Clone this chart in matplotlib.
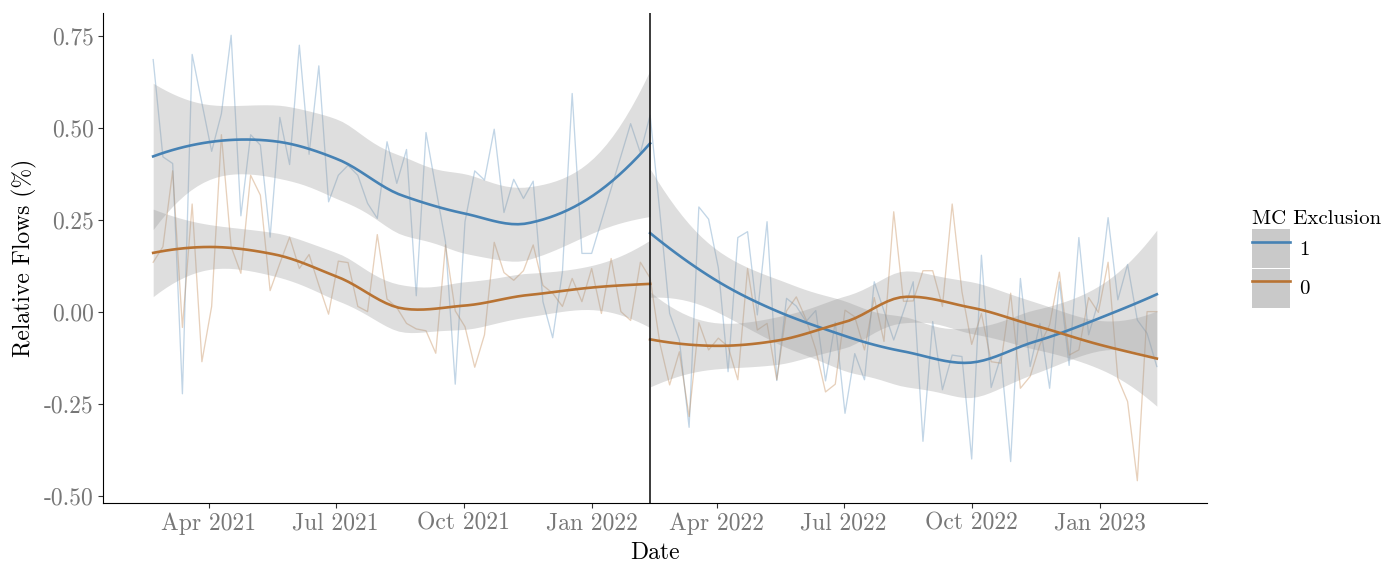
import numpy as np
import pandas as pd
import matplotlib
matplotlib.use("Agg")
import matplotlib.pyplot as plt
import matplotlib.dates as mdates
from matplotlib.patches import Patch
from matplotlib.lines import Line2D
from matplotlib.legend_handler import HandlerTuple

# -----------------------------
# Data (weekly relative flows)
# -----------------------------
start_date = "2021-02-20"
cutoff_date = "2022-02-12"

flows_mc1 = [
    0.685, 0.421, 0.403, -0.222, 0.699, 0.567, 0.436, 0.538, 0.751, 0.261,
    0.481, 0.453, 0.203, 0.528, 0.400, 0.724, 0.428, 0.668, 0.299, 0.371,
    0.398, 0.371, 0.295, 0.254, 0.462, 0.349, 0.441, 0.044, 0.487, 0.337,
    0.190, -0.196, 0.245, 0.383, 0.358, 0.496, 0.270, 0.360, 0.308, 0.355,
    0.028, -0.070, 0.109, 0.593, 0.159, 0.159, 0.247, 0.335, 0.423, 0.511,
    0.432, 0.534, 0.270, -0.004, -0.076, -0.313, 0.285, 0.252, 0.120, -0.162,
    0.202, 0.218, -0.008, 0.245, -0.186, 0.037, 0.016, -0.026, 0.004, -0.187,
    -0.028, -0.275, -0.113, -0.184, 0.082, 0.003, -0.076, 0.001, 0.082, -0.351,
    -0.026, -0.211, -0.117, -0.121, -0.399, 0.154, -0.205, -0.121, -0.406, 0.091,
    -0.148, -0.031, -0.207, 0.082, -0.145, 0.202, -0.062, 0.028, 0.256, 0.033,
    0.129, -0.022, -0.058, -0.148,
]

flows_mc0 = [
    0.135, 0.177, 0.383, -0.042, 0.293, -0.135, 0.015, 0.481, 0.177, 0.105,
    0.371, 0.317, 0.058, 0.132, 0.203, 0.118, 0.156, 0.073, -0.006, 0.138,
    0.134, 0.015, 0.001, 0.210, 0.035, 0.012, -0.031, -0.046, -0.051, -0.112,
    0.182, 0.003, -0.040, -0.150, -0.062, 0.189, 0.107, 0.086, 0.112, 0.182,
    0.072, 0.051, 0.015, 0.091, 0.028, 0.118, -0.004, 0.145, 0.001, -0.023,
    0.135, 0.092, -0.085, -0.198, -0.108, -0.284, -0.029, -0.103, -0.071, -0.094,
    -0.184, 0.118, -0.049, -0.031, -0.184, 0.003, 0.041, -0.020, -0.102, -0.217,
    -0.196, 0.005, -0.013, -0.103, 0.039, -0.080, 0.272, 0.029, 0.030, 0.112,
    0.112, 0.015, 0.293, 0.055, -0.088, -0.004, -0.135, -0.139, 0.051, -0.207,
    -0.175, -0.089, -0.035, 0.108, -0.117, -0.103, 0.039, -0.001, 0.135, -0.180,
    -0.243, -0.458, 0.001, 0.001,
]

groups = ["1", "0"]
colors = {"1": "#4682B4", "0": "#B87333"}

dates = pd.date_range(start_date, periods=len(flows_mc1), freq="7D")
cutoff = pd.Timestamp(cutoff_date)
series = {"1": np.array(flows_mc1), "0": np.array(flows_mc0)}


# -----------------------------
# LOESS smoother (degree 2, tricube, span 0.75), kd-tree vertices
# with cubic Hermite interpolation, plus 95% band
# -----------------------------
def t_quantile(df, z=1.959964):
    return z + (z**3 + z) / (4 * df) + (5 * z**5 + 16 * z**3 + 3 * z) / (96 * df**2)


def local_ops(x, x0s, span=0.75):
    """Rows giving local fitted value and slope at each x0 as linear maps of y."""
    n = len(x)
    q = int(np.floor(n * span))
    vals, slopes = [], []
    for x0 in x0s:
        d = np.abs(x - x0)
        h = np.sort(d)[q - 1]
        u = np.clip(d / h, 0, 1)
        w = (1 - u**3) ** 3
        X = np.column_stack([np.ones(n), x - x0, (x - x0) ** 2])
        WX = w[:, None] * X
        op = np.linalg.solve(X.T @ WX, WX.T)
        vals.append(op[0])
        slopes.append(op[1])
    return np.array(vals), np.array(slopes)


def kd_vertices(x, span=0.75, cell=0.2):
    fc = int(np.floor(len(x) * span * cell))
    mu = 0.005 * (x.max() - x.min())
    verts = {x.min() - mu, x.max() + mu}

    def split(pts):
        if len(pts) <= fc:
            return
        cut = np.median(pts)
        verts.add(cut)
        split(pts[pts <= cut])
        split(pts[pts > cut])

    split(np.sort(x))
    return np.array(sorted(verts))


def interp_rows(x, x_eval, span=0.75):
    vx = kd_vertices(x, span)
    V, S = local_ops(x, vx, span)
    rows = []
    for xe in x_eval:
        j = min(max(np.searchsorted(vx, xe) - 1, 0), len(vx) - 2)
        a, b = vx[j], vx[j + 1]
        h = b - a
        t = (xe - a) / h
        h00 = 2 * t**3 - 3 * t**2 + 1
        h10 = t**3 - 2 * t**2 + t
        h01 = -2 * t**3 + 3 * t**2
        h11 = t**3 - t**2
        rows.append(h00 * V[j] + h10 * h * S[j] + h01 * V[j + 1] + h11 * h * S[j + 1])
    return np.array(rows)


def smooth(xd, y, n_out=80):
    x = (xd - xd.mean()) / (xd.max() - xd.min())
    n = len(x)
    L = interp_rows(x, x)
    resid = y - L @ y
    M = (np.eye(n) - L).T @ (np.eye(n) - L)
    d1 = np.trace(M)
    d2 = np.trace(M @ M)
    s = np.sqrt(resid @ resid / d1)
    tq = t_quantile(d1**2 / d2)
    xg = np.linspace(x.min(), x.max(), n_out)
    Lg = interp_rows(x, xg)
    fit = Lg @ y
    se = s * np.sqrt((Lg**2).sum(axis=1))
    xg_days = xg * (xd.max() - xd.min()) + xd.mean()
    return xg_days, fit, fit - tq * se, fit + tq * se


# -----------------------------
# Style
# -----------------------------
plt.rcParams["font.family"] = "cmr10"
plt.rcParams["mathtext.fontset"] = "cm"
plt.rcParams["axes.unicode_minus"] = False

fig = plt.figure(figsize=(13.81, 5.62), dpi=100)
ax = fig.add_axes([103 / 1381, 59 / 562, 1104 / 1381, 490 / 562])

days = mdates.date2num(dates)
pre = dates <= cutoff
post = dates >= cutoff

# raw weekly lines
for g in groups:
    ax.plot(dates, series[g], color=colors[g], lw=0.95, alpha=0.33, zorder=1)

# smooths per period
for g in groups:
    for mask in (pre, post):
        xs, fit, lo, hi = smooth(days[mask], series[g][mask])
        ax.fill_between(mdates.num2date(xs), lo, hi, color="#999999",
                        alpha=0.32, lw=0, zorder=2)
        ax.plot(mdates.num2date(xs), fit, color=colors[g], lw=1.9, zorder=3)

ax.axvline(cutoff, color="#1a1a1a", lw=1.2, zorder=4)

# axes limits: 5% padding like the default expansion
span_days = days.max() - days.min()
ax.set_xlim(days.min() - 0.05 * span_days, days.max() + 0.05 * span_days)
ax.margins(y=0.05)

ax.xaxis.set_major_locator(mdates.MonthLocator(bymonth=[1, 4, 7, 10]))
ax.xaxis.set_major_formatter(mdates.DateFormatter("%b %Y"))
yticks = [-0.5, -0.25, 0.0, 0.25, 0.5, 0.75]
ax.set_yticks(yticks)
ax.set_yticklabels([f"{v:.2f}" for v in yticks])

ax.tick_params(axis="both", labelsize=17, labelcolor="#777777", color="#333333",
               length=3.6, width=0.8, pad=3)

for side in ["top", "right"]:
    ax.spines[side].set_visible(False)
for side in ["left", "bottom"]:
    ax.spines[side].set_linewidth(0.8)
    ax.spines[side].set_color("black")

ax.set_xlabel("Date", fontsize=17, labelpad=5)
ax.set_ylabel("Relative Flows (%)", fontsize=17, labelpad=5)

# -----------------------------
# Legend
# -----------------------------
handles = [
    (Patch(facecolor="#C9C9C9", edgecolor="none"),
     Line2D([], [], color=colors[g], lw=1.9))
    for g in groups
]
leg = fig.legend(handles, groups, title="MC Exclusion",
                 handler_map={tuple: HandlerTuple(ndivide=1, pad=0)},
                 loc="upper left", bbox_to_anchor=(1252 / 1381, 352 / 562),
                 frameon=False, fontsize=15, title_fontsize=15,
                 handlelength=1.83, handleheight=2.5, labelspacing=0.04,
                 handletextpad=0.45, borderpad=0, borderaxespad=0,
                 alignment="left")
leg._legend_handle_box.sep = 6

fig.savefig("out.png", dpi=100)
